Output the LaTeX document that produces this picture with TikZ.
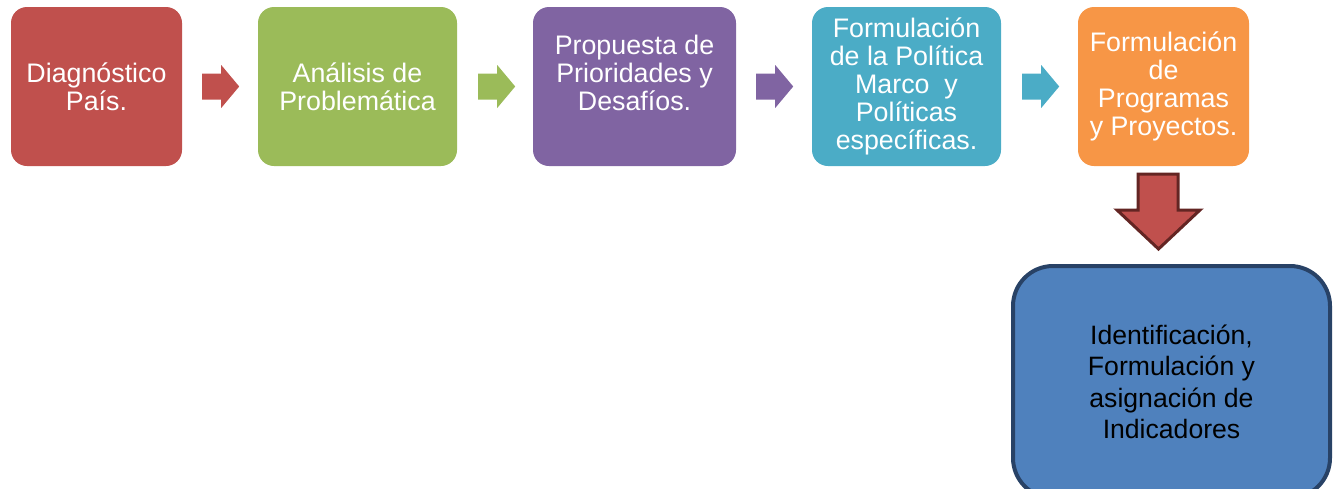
\documentclass[tikz,border=0pt]{standalone}
\usepackage{fontspec}
\setmainfont{Liberation Sans}
\usetikzlibrary{calc}
\definecolor{cred}{HTML}{C0504D}
\definecolor{cgreen}{HTML}{9BBB59}
\definecolor{cpurple}{HTML}{8064A2}
\definecolor{caqua}{HTML}{4BACC6}
\definecolor{corange}{HTML}{F79646}
\definecolor{cblue}{HTML}{4F81BD}
\definecolor{cnavy}{RGB}{40,66,102}
\definecolor{cdarkred}{RGB}{99,37,35}
\tikzset{
  stagebox/.style={rounded corners=16pt, minimum height=159pt, inner sep=0pt,
    text=white, align=center, font=\fontsize{26.8}{28}\selectfont},
  rarr/.pic={\fill (0,-13) -- (19,-13) -- (19,-21.5) -- (37,0) -- (19,21.5) -- (19,13) -- (0,13) -- cycle;}
}
\begin{document}
\begin{tikzpicture}[x=1pt,y=-1pt]
\useasboundingbox (0,0) rectangle (1335,488);
\node[stagebox, fill=cred, minimum width=171pt] (b1) at (96.5,86.5) {Diagnóstico\\País.};
\node[stagebox, fill=cgreen, minimum width=199pt] (b2) at (357.5,86.5) {Análisis de\\Problemática};
\node[stagebox, fill=cpurple, minimum width=203pt] (b3) at (634.5,86.5) {Propuesta de\\Prioridades y\\Desafíos.\\\mbox{}};
\node[stagebox, fill=caqua, minimum width=189pt] (b4) at (906.5,86.5) {Formulación\\de la Política\\Marco\ \ y\\Políticas\\específicas.};
\node[stagebox, fill=corange, minimum width=171pt] (b5) at (1163.5,86.5) {Formulación\\de\\Programas\\y Proyectos.};
\coordinate (a1) at ($(b1.east)+(20,0)$);
\coordinate (a2) at ($(b2.east)+(21,0)$);
\coordinate (a3) at ($(b3.east)+(20,0)$);
\coordinate (a4) at ($(b4.east)+(21,0)$);
\pic[fill=cred] at (a1) {rarr};
\pic[fill=cgreen] at (a2) {rarr};
\pic[fill=cpurple] at (a3) {rarr};
\pic[fill=caqua] at (a4) {rarr};
\node[draw=cnavy, line width=4pt, fill=cblue, rounded corners=40pt, minimum width=317pt,
  minimum height=232pt, inner sep=0pt, align=center, text=black,
  font=\fontsize{26.6}{31.5}\selectfont] (b6) at (1171.5,382)
  {Identificación,\\Formulación y\\asignación de\\Indicadores};
\draw[fill=cred, draw=cdarkred, line width=3pt, line join=miter]
  (1138,174) -- (1178,174) -- (1178,210) -- (1200,210) -- (1158.5,249)
  -- (1117,210) -- (1138,210) -- cycle;
\end{tikzpicture}
\end{document}
